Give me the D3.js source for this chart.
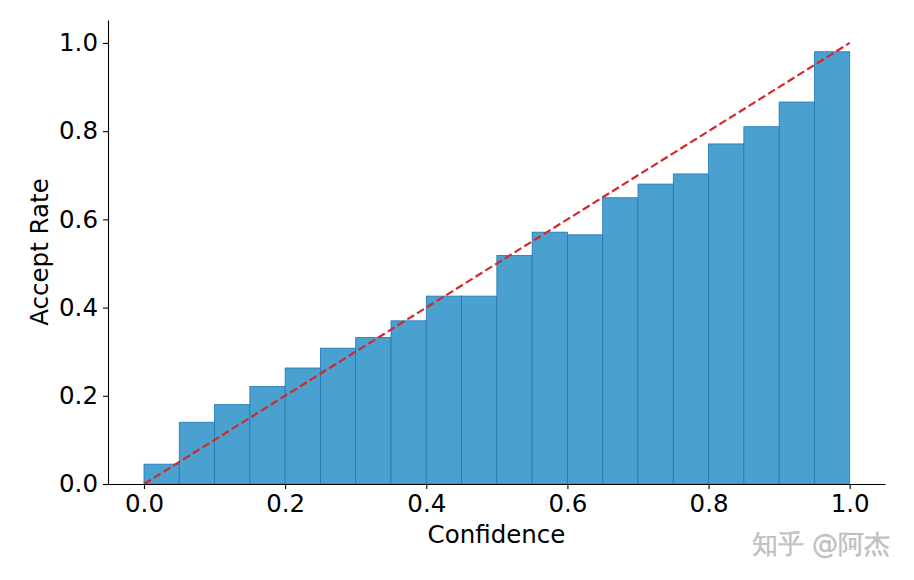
<!DOCTYPE html>
<meta charset="utf-8">
<head>
<style>
  body { margin: 0; background: #fff; }
  text { font-family: "DejaVu Sans", sans-serif; }
</style>
</head>
<body>
<svg width="914" height="580"></svg>

<script src="https://d3js.org/d3.v7.min.js"></script>
<script>
// bin left edges and accept rate per bin
var binStart = [0.00, 0.05, 0.10, 0.15, 0.20, 0.25, 0.30, 0.35, 0.40, 0.45,
                0.50, 0.55, 0.60, 0.65, 0.70, 0.75, 0.80, 0.85, 0.90, 0.95];
var acceptRate = [0.045, 0.140, 0.180, 0.221, 0.263, 0.308, 0.332, 0.370, 0.426, 0.426,
                  0.518, 0.571, 0.565, 0.649, 0.680, 0.703, 0.771, 0.810, 0.866, 0.980];
var binWidth = 0.05;
var diagonal = [[0, 0], [1, 1]];
var tickVals = [0.0, 0.2, 0.4, 0.6, 0.8, 1.0];

var svg = d3.select("svg"),
    margin = {top: 20, right: 29, bottom: 96, left: 108},
    width = +svg.attr("width") - margin.left - margin.right,
    height = +svg.attr("height") - margin.top - margin.bottom,
    g = svg.append("g").attr("transform", "translate(" + margin.left + "," + margin.top + ")");

var x = d3.scaleLinear().domain([-0.051, 1.05]).range([0, width]),
    y = d3.scaleLinear().domain([0, 1.052]).range([height, 0]);

var data = binStart.map(function(b, i) { return {x0: b, v: acceptRate[i]}; });

// bars
g.append("g")
    .attr("class", "bars")
  .selectAll("rect")
  .data(data)
  .enter().append("rect")
    .attr("x", function(d) { return x(d.x0); })
    .attr("y", function(d) { return y(d.v); })
    .attr("width", function(d) { return x(d.x0 + binWidth) - x(d.x0); })
    .attr("height", function(d) { return y(0) - y(d.v); })
    .attr("fill", "#4aa1cf")
    .attr("stroke", "#1f77b4")
    .attr("stroke-width", 0.8);

// diagonal y = x
var line = d3.line()
    .x(function(d) { return x(d[0]); })
    .y(function(d) { return y(d[1]); });
g.append("path")
    .attr("d", line(diagonal))
    .attr("fill", "none")
    .attr("stroke", "#d62728")
    .attr("stroke-width", 2.2)
    .style("stroke-dasharray", "8,3.5");

// axes
var xAxis = g.append("g")
    .attr("class", "axis axis--x")
    .attr("transform", "translate(0," + height + ")")
    .call(d3.axisBottom(x).tickValues(tickVals).tickFormat(d3.format(".1f")).tickSizeInner(5).tickSizeOuter(0).tickPadding(6));
var yAxis = g.append("g")
    .attr("class", "axis axis--y")
    .call(d3.axisLeft(y).tickValues(tickVals).tickFormat(d3.format(".1f")).tickSizeInner(5).tickSizeOuter(0).tickPadding(5));

svg.selectAll(".axis text")
    .attr("font-family", "DejaVu Sans")
    .attr("font-size", 24.5)
    .attr("fill", "#000");
svg.selectAll(".axis path, .axis line")
    .attr("stroke", "#000")
    .attr("stroke-width", 1.1);

// labels, centred on the axes box
svg.append("text")
    .attr("x", margin.left + width / 2)
    .attr("y", 543)
    .attr("text-anchor", "middle")
    .attr("font-size", 24.5)
    .text("Confidence");
svg.append("text")
    .attr("transform", "translate(48," + (margin.top + height / 2) + ") rotate(-90)")
    .attr("text-anchor", "middle")
    .attr("font-size", 24.5)
    .text("Accept Rate");

// watermark
svg.append("text")
    .attr("x", 890)
    .attr("y", 553)
    .attr("text-anchor", "end")
    .attr("font-family", "Noto Sans CJK SC")
    .attr("font-size", 26)
    .attr("fill", "#c4c4c4")
    .attr("stroke", "#aaa")
    .attr("stroke-width", 0.3)
    .text("知乎 @阿杰");
</script>
</body>
